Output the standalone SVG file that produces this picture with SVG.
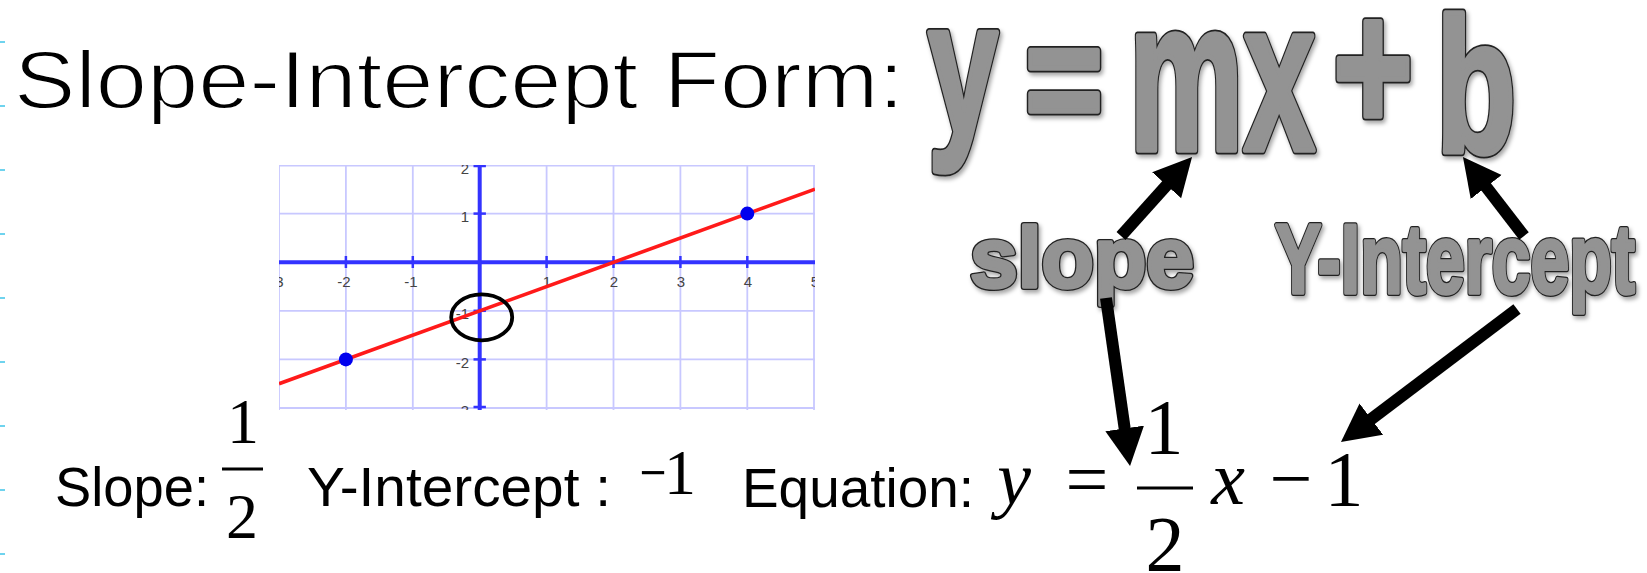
<svg xmlns="http://www.w3.org/2000/svg" width="1647" height="573" viewBox="0 0 1647 573">
<style>
.sans{font-family:"Liberation Sans",Arial,sans-serif}
.serif{font-family:"Liberation Serif","Times New Roman",serif}
.wo{font-family:"Liberation Sans",Arial,sans-serif;font-weight:700;fill:#939393;stroke:#222;stroke-width:9;stroke-linejoin:round}
.wf{font-family:"Liberation Sans",Arial,sans-serif;font-weight:700;fill:#939393;stroke:#939393;stroke-width:5.5;stroke-linejoin:round}
.so{font-family:"Liberation Sans",Arial,sans-serif;font-weight:700;fill:#939393;stroke:#222;stroke-width:6;stroke-linejoin:round}
.sf{font-family:"Liberation Sans",Arial,sans-serif;font-weight:700;fill:#939393;stroke:#939393;stroke-width:3.5;stroke-linejoin:round}
.grid{stroke:#c8c8ff;stroke-width:1.8}
.axis{stroke:#3333ff;stroke-width:4}
.tick{stroke:#3333ff;stroke-width:2.5}
.glab{font-family:"Liberation Sans",Arial,sans-serif;font-size:15px;fill:#444}
.arr{stroke:#000;stroke-width:12;fill:none;marker-end:url(#ah)}
.edge{fill:#6fd3ee}
</style>
<defs>
<marker id="ah" markerUnits="userSpaceOnUse" markerWidth="40" markerHeight="40" refX="8" refY="19.5" orient="auto">
<path d="M0,0 L38,19.5 L0,39 z" fill="#000"/>
</marker>
<filter id="sh" x="-10%" y="-10%" width="130%" height="130%">
<feDropShadow dx="2" dy="3" stdDeviation="2" flood-color="#000" flood-opacity="0.35"/>
</filter>
<clipPath id="gclip"><rect x="279" y="165" width="536" height="245"/></clipPath>
</defs>
<rect width="1647" height="573" fill="#fff"/>

<g id="edge-ticks">
<rect class="edge" x="0" y="41" width="5" height="2"/>
<rect class="edge" x="0" y="105" width="5" height="2"/>
<rect class="edge" x="0" y="169" width="5" height="2"/>
<rect class="edge" x="0" y="233" width="5" height="2"/>
<rect class="edge" x="0" y="297" width="5" height="2"/>
<rect class="edge" x="0" y="361" width="5" height="2"/>
<rect class="edge" x="0" y="425" width="5" height="2"/>
<rect class="edge" x="0" y="489" width="5" height="2"/>
<rect class="edge" x="0" y="553" width="5" height="2"/>
</g>

<g id="title">
<text class="sans" x="14" y="108" font-size="82" textLength="890" lengthAdjust="spacingAndGlyphs" fill="#000" stroke="#fff" stroke-width="1.8">Slope-Intercept Form:</text>
</g>

<g id="formula" filter="url(#sh)">
<text class="wo" x="928" y="133" font-size="190" textLength="70" lengthAdjust="spacingAndGlyphs">y</text>
<text class="wf" x="928" y="133" font-size="190" textLength="70" lengthAdjust="spacingAndGlyphs">y</text>
<text class="wo" x="1025" y="134" font-size="160" textLength="78" lengthAdjust="spacingAndGlyphs">=</text>
<text class="wf" x="1025" y="134" font-size="160" textLength="78" lengthAdjust="spacingAndGlyphs">=</text>
<text class="wo" x="1129" y="150" font-size="215" textLength="186" lengthAdjust="spacingAndGlyphs">mx</text>
<text class="wf" x="1129" y="150" font-size="215" textLength="186" lengthAdjust="spacingAndGlyphs">mx</text>
<text class="wo" x="1333" y="131" font-size="185" textLength="80" lengthAdjust="spacingAndGlyphs">+</text>
<text class="wf" x="1333" y="131" font-size="185" textLength="80" lengthAdjust="spacingAndGlyphs">+</text>
<text class="wo" x="1436" y="152" font-size="192" textLength="80" lengthAdjust="spacingAndGlyphs">b</text>
<text class="wf" x="1436" y="152" font-size="192" textLength="80" lengthAdjust="spacingAndGlyphs">b</text>
</g>

<g id="label-slope" filter="url(#sh)">
<text class="so" x="970" y="287" font-size="85" textLength="224" lengthAdjust="spacingAndGlyphs">slope</text>
<text class="sf" x="970" y="287" font-size="85" textLength="224" lengthAdjust="spacingAndGlyphs">slope</text>
</g>

<g id="label-yint" filter="url(#sh)">
<text class="so" x="1275" y="293" font-size="98" textLength="360" lengthAdjust="spacingAndGlyphs">Y-Intercept</text>
<text class="sf" x="1275" y="293" font-size="98" textLength="360" lengthAdjust="spacingAndGlyphs">Y-Intercept</text>
</g>

<g id="graph">
<g clip-path="url(#gclip)">
<g class="grid">
<line x1="279" y1="165" x2="279" y2="410"/>
<line x1="345.9" y1="165" x2="345.9" y2="410"/>
<line x1="412.8" y1="165" x2="412.8" y2="410"/>
<line x1="546.6" y1="165" x2="546.6" y2="410"/>
<line x1="613.5" y1="165" x2="613.5" y2="410"/>
<line x1="680.4" y1="165" x2="680.4" y2="410"/>
<line x1="747.3" y1="165" x2="747.3" y2="410"/>
<line x1="814" y1="165" x2="814" y2="410"/>
<line x1="279" y1="165.5" x2="815" y2="165.5"/>
<line x1="279" y1="213.6" x2="815" y2="213.6"/>
<line x1="279" y1="310.8" x2="815" y2="310.8"/>
<line x1="279" y1="359.4" x2="815" y2="359.4"/>
<line x1="279" y1="408" x2="815" y2="408"/>
</g>
<line class="axis" x1="279" y1="262.2" x2="815" y2="262.2"/>
<line class="axis" x1="479.7" y1="165" x2="479.7" y2="410"/>
<g class="tick">
<line x1="345.9" y1="256" x2="345.9" y2="268"/>
<line x1="412.8" y1="256" x2="412.8" y2="268"/>
<line x1="546.6" y1="256" x2="546.6" y2="268"/>
<line x1="613.5" y1="256" x2="613.5" y2="268"/>
<line x1="680.4" y1="256" x2="680.4" y2="268"/>
<line x1="747.3" y1="256" x2="747.3" y2="268"/>
<line x1="473.5" y1="166" x2="485.9" y2="166"/>
<line x1="473.5" y1="213.6" x2="485.9" y2="213.6"/>
<line x1="473.5" y1="310.8" x2="485.9" y2="310.8"/>
<line x1="473.5" y1="359.4" x2="485.9" y2="359.4"/>
<line x1="473.5" y1="407" x2="485.9" y2="407"/>
</g>
<g class="glab" text-anchor="middle">
<text x="277" y="287">-3</text>
<text x="344" y="287">-2</text>
<text x="411" y="287">-1</text>
<text x="547" y="287">1</text>
<text x="614" y="287">2</text>
<text x="681" y="287">3</text>
<text x="748" y="287">4</text>
<text x="815" y="287">5</text>
</g>
<g class="glab" text-anchor="end">
<text x="469" y="174">2</text>
<text x="469" y="222">1</text>
<text x="469" y="319">-1</text>
<text x="469" y="368">-2</text>
<text x="469" y="416">-3</text>
</g>
<line x1="279" y1="383.7" x2="815" y2="189.2" stroke="#ff1a1a" stroke-width="3.6"/>
<circle cx="345.9" cy="359.4" r="7" fill="#0000ee"/>
<circle cx="747.3" cy="213.6" r="7" fill="#0000ee"/>
</g>
<ellipse cx="481.7" cy="317.3" rx="30.5" ry="23" fill="none" stroke="#000" stroke-width="3.8"/>
</g>

<g id="slope-result">
<text class="sans" x="55" y="506" font-size="55" textLength="154" lengthAdjust="spacingAndGlyphs">Slope:</text>
<text class="serif" x="243" y="443" font-size="64" text-anchor="middle">1</text>
<line x1="222" y1="469" x2="263" y2="469" stroke="#000" stroke-width="3"/>
<text class="serif" x="242" y="538" font-size="64" text-anchor="middle">2</text>
</g>

<g id="yint-result">
<text class="sans" x="307" y="506" font-size="55" textLength="304" lengthAdjust="spacingAndGlyphs">Y-Intercept :</text>
<text class="serif" x="653" y="494" font-size="64" text-anchor="middle" textLength="27" lengthAdjust="spacingAndGlyphs">−</text>
<text class="serif" x="680" y="494" font-size="64" text-anchor="middle">1</text>
</g>

<g id="equation-result">
<text class="sans" x="742" y="507" font-size="55" textLength="232" lengthAdjust="spacingAndGlyphs">Equation:</text>
<text class="serif" x="1014" y="504" font-size="76" font-style="italic" text-anchor="middle">y</text>
<text class="serif" x="1087" y="505" font-size="76" text-anchor="middle">=</text>
<text class="serif" x="1164" y="453" font-size="78" text-anchor="middle">1</text>
<line x1="1137" y1="488" x2="1193" y2="488" stroke="#000" stroke-width="3"/>
<text class="serif" x="1165" y="570" font-size="78" text-anchor="middle">2</text>
<text class="serif" x="1228" y="504" font-size="76" font-style="italic" text-anchor="middle">x</text>
<text class="serif" x="1291" y="504" font-size="76" text-anchor="middle">−</text>
<text class="serif" x="1344" y="505" font-size="78" text-anchor="middle">1</text>
</g>

<g id="connectors">
<line class="arr" x1="1121" y1="236" x2="1172" y2="179.3"/>
<line class="arr" x1="1524" y1="236" x2="1481.3" y2="180.7"/>
<line class="arr" x1="1106" y1="298" x2="1125.8" y2="436.3"/>
<line class="arr" x1="1517" y1="309" x2="1364.9" y2="423.9"/>
</g>
</svg>
